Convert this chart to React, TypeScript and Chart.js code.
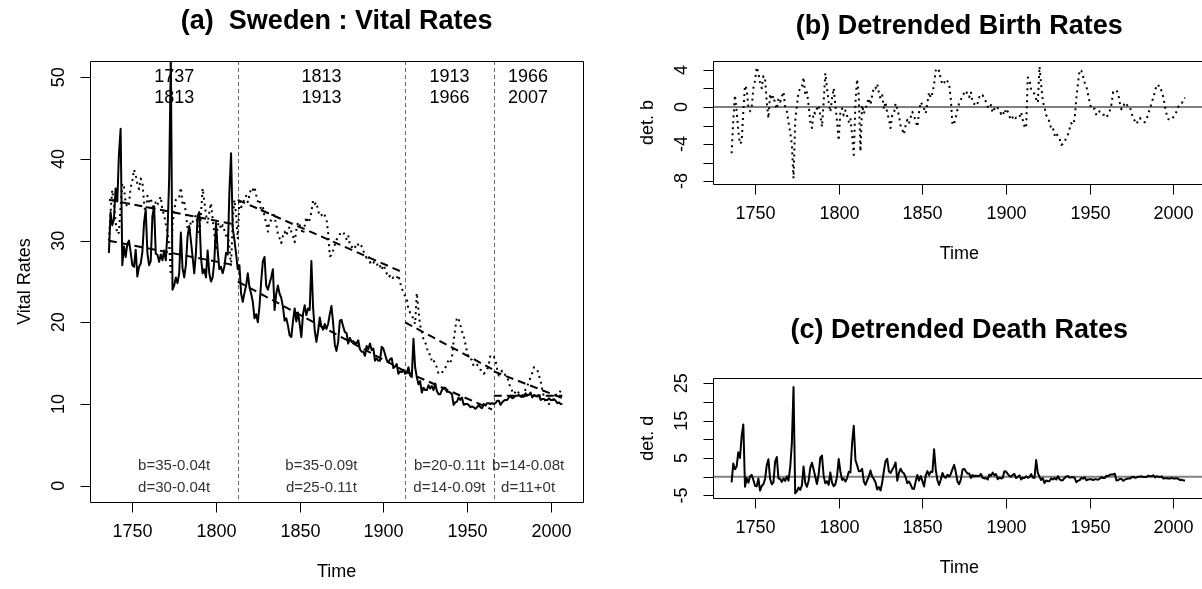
import React, { useEffect, useRef } from "react";
import { Chart, registerables } from "chart.js";

Chart.register(...registerables);

const FONT = '"Liberation Sans", Arial, Helvetica, sans-serif';

// ---------------- data ----------------
const startYear = 1736;

const birthRates = [
  30.0, 33.5, 36.2, 34.4, 32.3, 30.8, 31.0, 34.2, 37.0, 36.6,
  34.6, 34.1, 34.5, 36.5, 37.3, 38.7, 38.0, 37.0, 36.3, 37.6,
  37.2, 34.7, 32.9, 35.5, 34.8, 35.2, 34.3, 33.7, 34.8, 34.4,
  34.9, 35.4, 33.7, 33.2, 32.0, 30.9, 29.5, 25.8, 31.9, 33.6,
  35.0, 35.4, 35.4, 36.5, 34.5, 34.8, 33.4, 31.5, 30.8, 32.5,
  32.3, 32.8, 33.1, 32.0, 30.7, 33.3, 36.4, 34.8, 33.2, 32.1,
  33.5, 34.6, 32.7, 30.9, 28.8, 31.9, 32.2, 31.4, 31.9, 31.3,
  30.6, 31.0, 29.1, 26.9, 32.5, 35.0, 33.2, 30.2, 35.1, 34.1,
  34.5, 35.1, 35.5, 34.7, 35.6, 36.4, 36.2, 36.6, 35.6, 34.8,
  35.1, 33.5, 34.2, 32.9, 32.2, 31.1, 32.4, 32.5, 33.5, 32.8,
  32.0, 30.8, 30.3, 29.7, 30.6, 31.1, 30.6, 31.2, 31.7, 31.1,
  30.6, 29.8, 31.3, 32.3, 31.9, 31.4, 30.8, 31.8, 32.9, 32.2,
  32.6, 33.5, 34.9, 34.5, 34.7, 33.7, 33.0, 33.1, 33.4, 33.1,
  32.7, 31.0, 28.1, 28.2, 28.8, 29.5, 30.1, 30.4, 30.8, 30.9,
  31.1, 30.6, 30.2, 30.7, 29.5, 29.2, 29.4, 29.1, 29.7, 29.5,
  29.7, 29.3, 28.8, 28.2, 27.9, 28.2, 27.3, 27.6, 27.3, 27.5,
  27.3, 26.7, 26.9, 26.4, 27.0, 26.6, 26.0, 25.5, 25.7, 25.3,
  25.5, 25.3, 25.4, 25.8, 24.9, 24.1, 23.8, 23.2, 22.9, 21.6,
  21.2, 21.0, 20.3, 19.8, 23.6, 21.5, 19.6, 18.9, 17.9, 17.6,
  16.9, 16.1, 16.1, 15.2, 15.4, 14.8, 14.5, 13.7, 13.7, 13.8,
  14.2, 14.4, 14.9, 15.4, 15.1, 15.6, 17.7, 19.3, 20.6, 20.4,
  19.7, 18.9, 18.4, 17.4, 16.4, 15.6, 15.5, 15.4, 14.6, 14.8,
  14.8, 14.6, 14.2, 14.1, 13.7, 13.9, 14.2, 14.8, 16.0, 15.9,
  15.8, 15.4, 14.3, 13.5, 13.7, 14.1, 13.8, 13.5, 13.4, 12.6,
  12.0, 11.6, 11.2, 11.5, 11.7, 11.3, 11.1, 11.0, 11.2, 11.8,
  12.2, 12.7, 13.3, 13.8, 14.5, 14.3, 14.2, 13.5, 12.8, 11.7,
  10.8, 10.2, 10.1, 10.0, 10.2, 10.3, 10.7, 11.1, 11.2, 11.2,
  11.7, 11.7,
];

const deathRates = [
  28.5, 33.5, 31.9, 32.6, 36.4, 34.8, 40.6, 43.7, 27.0, 29.3,
  28.0, 29.6, 30.0, 28.6, 27.0, 26.8, 28.9, 25.6, 26.8, 27.2,
  28.6, 32.2, 33.8, 28.5, 27.0, 27.5, 33.0, 34.2, 28.4, 28.3,
  27.4, 28.3, 27.6, 28.8, 27.6, 31.0, 37.5, 52.5, 24.0, 24.5,
  25.5, 24.8, 26.0, 31.0, 26.6, 25.5, 27.0, 30.5, 31.8, 30.0,
  28.0, 26.0, 28.5, 33.0, 33.5, 28.0, 26.0, 26.5, 25.5, 28.8,
  26.0, 25.0, 25.5, 27.5, 32.2, 28.8, 26.5, 26.8, 26.0, 26.8,
  28.5, 28.3, 36.0, 40.7, 31.5, 30.1, 28.4, 26.5, 27.0, 23.5,
  22.5, 23.6, 24.5, 26.0, 24.3, 23.5, 22.5, 20.5, 21.0, 20.0,
  22.0, 25.0, 27.5, 28.0, 24.5, 24.0, 24.8, 25.5, 26.5, 21.5,
  23.5, 24.5, 23.5, 23.0, 21.9, 20.2, 20.5, 19.6, 18.4, 18.2,
  20.1, 21.7, 20.1, 21.2, 19.8, 18.2, 21.0, 22.1, 20.9, 21.7,
  21.5, 27.5, 21.9, 19.0, 17.6, 18.9, 20.6, 19.5, 19.1, 19.8,
  19.2, 19.8, 21.0, 22.0, 19.9, 17.3, 16.5, 17.6, 20.2, 20.3,
  19.5, 18.8, 18.7, 17.4, 18.1, 17.6, 17.7, 17.5, 17.4, 17.8,
  16.7, 16.4, 16.4, 15.9, 17.1, 16.7, 17.4, 16.6, 16.8, 15.3,
  15.6, 15.3, 15.3, 17.0, 16.8, 16.1, 15.4, 15.1, 15.5, 15.6,
  14.4, 14.6, 14.9, 13.7, 14.0, 13.9, 14.2, 13.7, 13.8, 14.5,
  13.5, 13.3, 18.0, 14.5, 13.3, 12.4, 12.8, 11.4, 12.0, 11.7,
  11.7, 12.3, 11.9, 12.2, 11.7, 12.5, 11.6, 11.2, 11.2, 11.7,
  12.0, 12.0, 11.5, 11.5, 11.4, 11.2, 9.9, 10.2, 10.3, 10.8,
  10.5, 10.8, 9.9, 10.0, 10.0, 9.9, 9.6, 9.7, 9.6, 9.4,
  9.6, 9.9, 9.6, 9.5, 10.0, 9.8, 10.1, 10.1, 10.0, 10.1,
  10.0, 10.1, 10.4, 10.4, 9.9, 10.2, 10.4, 10.5, 10.5, 10.8,
  11.0, 10.7, 10.8, 11.0, 11.0, 11.1, 10.9, 10.9, 10.9, 11.3,
  11.1, 11.1, 11.4, 10.8, 11.1, 11.0, 10.9, 11.1, 10.5, 10.6,
  10.6, 10.5, 10.5, 10.7, 10.5, 10.5, 10.6, 10.4, 10.1, 10.2,
  10.0, 10.0,
];

const years = birthRates.map((_, i) => startYear + i);

// piecewise linear trends, as printed on the chart (t = years since period start)
const segStarts = [1736, 1813, 1913, 1966];
const segEnds = [1812, 1912, 1965, 2007];
const birthIntercepts = [35, 35, 20, 14];
const birthSlopes = [-0.04, -0.09, -0.11, -0.08];
const deathIntercepts = [30, 25, 14, 11];
const deathSlopes = [-0.04, -0.11, -0.09, 0];
const breakYears = [1813, 1913, 1966];

const periodFrom = ["1737", "1813", "1913", "1966"];
const periodTo = ["1813", "1913", "1966", "2007"];
const periodMid = [1775, 1863, 1939.5, 1986.5];
const birthFormulas = ["b=35-0.04t", "b=35-0.09t", "b=20-0.11t", "b=14-0.08t"];
const deathFormulas = ["d=30-0.04t", "d=25-0.11t", "d=14-0.09t", "d=11+0t"];

const xTicks = [1750, 1800, 1850, 1900, 1950, 2000];
const rateTicks = [0, 10, 20, 30, 40, 50];
const detBTicks = [-8, -6, -4, -2, 0, 2, 4];
const detBTickLabels = [-8, -4, 0, 4];
const detDTicks = [-5, 0, 5, 10, 15, 20, 25];
const detDTickLabels = [-5, 5, 15, 25];

// ---------------- helpers ----------------
function segIndex(year: number) {
  let k = 0;
  for (let i = 0; i < segStarts.length; i++) if (year >= segStarts[i]) k = i;
  return k;
}
function trendAt(year: number, icpt: number[], slope: number[]) {
  const k = segIndex(year);
  return icpt[k] + slope[k] * (year - segStarts[k]);
}

const X_MIN = 1724.7;
const X_MAX = 2019.5;

function lineDs(data: { x: number; y: number }[], dash: number[], width = 2) {
  return {
    data,
    borderColor: "#000",
    borderWidth: width,
    borderDash: dash,
    borderCapStyle: "butt",
    borderJoinStyle: "round",
    pointRadius: 0,
    tension: 0,
    fill: false,
  } as any;
}

type Spec = {
  title: string;
  titleOffset: number;
  xTitle: string;
  yTitle: string;
  yTicks: number[];
  yTickLabels: number[];
  zeroLine?: boolean;
  breaks?: boolean;
  annotate?: boolean;
};

function rPlugin(spec: Spec) {
  return {
    id: "rStyle",
    beforeDatasetsDraw(chart: any) {
      const { ctx, chartArea: a, scales } = chart;
      ctx.save();
      if (spec.zeroLine) {
        const y = scales.y.getPixelForValue(0);
        ctx.strokeStyle = "#808080";
        ctx.lineWidth = 2;
        ctx.beginPath();
        ctx.moveTo(a.left, y);
        ctx.lineTo(a.right, y);
        ctx.stroke();
      }
      if (spec.breaks) {
        ctx.strokeStyle = "#666";
        ctx.lineWidth = 1;
        ctx.setLineDash([4, 3]);
        for (const b of breakYears) {
          const x = Math.round(scales.x.getPixelForValue(b)) + 0.5;
          ctx.beginPath();
          ctx.moveTo(x, a.top);
          ctx.lineTo(x, a.bottom);
          ctx.stroke();
        }
      }
      ctx.restore();
    },
    afterDraw(chart: any) {
      const { ctx, chartArea: a, scales } = chart;
      const xs = scales.x;
      const ys = scales.y;
      ctx.save();
      ctx.strokeStyle = "#000";
      ctx.fillStyle = "#000";
      ctx.lineWidth = 1;
      ctx.setLineDash([]);
      // box
      const l = Math.round(a.left) + 0.5;
      const t = Math.round(a.top) + 0.5;
      const r = Math.round(a.right) + 0.5;
      const b = Math.round(a.bottom) + 0.5;
      ctx.beginPath();
      ctx.moveTo(l, t);
      ctx.lineTo(r, t);
      ctx.lineTo(r, b);
      ctx.lineTo(l, b);
      ctx.closePath();
      ctx.stroke();
      // x ticks
      ctx.font = `18px ${FONT}`;
      ctx.textAlign = "center";
      ctx.textBaseline = "middle";
      for (const v of xTicks) {
        const px = Math.round(xs.getPixelForValue(v)) + 0.5;
        ctx.beginPath();
        ctx.moveTo(px, b);
        ctx.lineTo(px, b + 10);
        ctx.stroke();
        ctx.fillText(String(v), px, a.bottom + 30);
      }
      // y ticks
      for (const v of spec.yTicks) {
        const py = Math.round(ys.getPixelForValue(v)) + 0.5;
        ctx.beginPath();
        ctx.moveTo(l - 10, py);
        ctx.lineTo(l, py);
        ctx.stroke();
      }
      for (const v of spec.yTickLabels) {
        const py = ys.getPixelForValue(v);
        ctx.save();
        ctx.translate(a.left - 31, py);
        ctx.rotate(-Math.PI / 2);
        ctx.fillText(String(v), 0, 0);
        ctx.restore();
      }
      // axis titles
      const cx = (a.left + a.right) / 2;
      const cy = (a.top + a.bottom) / 2;
      ctx.fillText(spec.xTitle, cx, a.bottom + 70);
      ctx.save();
      ctx.translate(a.left - 65, cy);
      ctx.rotate(-Math.PI / 2);
      ctx.fillText(spec.yTitle, 0, 0);
      ctx.restore();
      // main title
      ctx.font = `bold 27px ${FONT}`;
      ctx.fillText(spec.title, cx, a.top - spec.titleOffset);
      // annotations
      if (spec.annotate) {
        ctx.font = `18px ${FONT}`;
        for (let i = 0; i < periodFrom.length; i++) {
          const px = xs.getPixelForValue(periodMid[i]);
          ctx.fillText(periodFrom[i], px, ys.getPixelForValue(50));
          ctx.fillText(periodTo[i], px, ys.getPixelForValue(47.5));
        }
        ctx.font = `15px ${FONT}`;
        ctx.fillStyle = "#333";
        for (let i = 0; i < birthFormulas.length; i++) {
          const px = xs.getPixelForValue(periodMid[i]);
          ctx.fillText(birthFormulas[i], px, ys.getPixelForValue(2.4));
          ctx.fillText(deathFormulas[i], px, ys.getPixelForValue(-0.3));
        }
      }
      ctx.restore();
    },
  };
}

function baseOptions(yMin: number, yMax: number, padding: any) {
  return {
    responsive: false,
    maintainAspectRatio: false,
    animation: false,
    devicePixelRatio: 1,
    events: [],
    layout: { padding },
    plugins: { legend: { display: false }, tooltip: { enabled: false }, title: { display: false } },
    scales: {
      x: { type: "linear", min: X_MIN, max: X_MAX, display: false },
      y: { type: "linear", min: yMin, max: yMax, display: false },
    },
  } as any;
}

function vitalConfig() {
  const datasets: any[] = [];
  datasets.push(lineDs(years.map((x, i) => ({ x, y: birthRates[i] })), [2, 4]));
  datasets.push(lineDs(years.map((x, i) => ({ x, y: deathRates[i] })), []));
  for (let k = 0; k < segStarts.length; k++) {
    const s = segStarts[k];
    const e = segEnds[k];
    datasets.push(
      lineDs(
        [
          { x: s, y: birthIntercepts[k] },
          { x: e, y: birthIntercepts[k] + birthSlopes[k] * (e - s) },
        ],
        [8, 5]
      )
    );
    datasets.push(
      lineDs(
        [
          { x: s, y: deathIntercepts[k] },
          { x: e, y: deathIntercepts[k] + deathSlopes[k] * (e - s) },
        ],
        [8, 5]
      )
    );
  }
  return {
    type: "line",
    data: { datasets },
    options: baseOptions(-2, 52, { left: 90, top: 61, right: 36.7, bottom: 87 }),
    plugins: [
      rPlugin({
        title: "(a)  Sweden : Vital Rates",
        titleOffset: 39,
        xTitle: "Time",
        yTitle: "Vital Rates",
        yTicks: rateTicks,
        yTickLabels: rateTicks,
        breaks: true,
        annotate: true,
      }),
    ],
  } as any;
}

function detBirthConfig() {
  const data = years.map((x, i) => ({ x, y: birthRates[i] - trendAt(x, birthIntercepts, birthSlopes) }));
  return {
    type: "line",
    data: { datasets: [lineDs(data, [2, 4])] },
    options: baseOptions(-8.32, 4.97, { left: 92.7, top: 61, right: 14, bottom: 116 }),
    plugins: [
      rPlugin({
        title: "(b) Detrended Birth Rates",
        titleOffset: 34,
        xTitle: "Time",
        yTitle: "det. b",
        yTicks: detBTicks,
        yTickLabels: detBTickLabels,
        zeroLine: true,
      }),
    ],
  } as any;
}

function detDeathConfig() {
  const data = years.map((x, i) => ({ x, y: deathRates[i] - trendAt(x, deathIntercepts, deathSlopes) }));
  return {
    type: "line",
    data: { datasets: [lineDs(data, [])] },
    options: baseOptions(-5.7, 26.34, { left: 92.7, top: 78.3, right: 14, bottom: 91 }),
    plugins: [
      rPlugin({
        title: "(c) Detrended Death Rates",
        titleOffset: 48,
        xTitle: "Time",
        yTitle: "det. d",
        yTicks: detDTicks,
        yTickLabels: detDTickLabels,
        zeroLine: true,
      }),
    ],
  } as any;
}

function Panel(props: { left: number; top: number; width: number; height: number; make: () => any }) {
  const ref = useRef<HTMLCanvasElement | null>(null);
  useEffect(() => {
    if (!ref.current) return;
    const chart = new Chart(ref.current, props.make());
    return () => chart.destroy();
  }, []);
  return (
    <canvas
      ref={ref}
      width={props.width}
      height={props.height}
      style={{ position: "absolute", left: props.left, top: props.top, width: props.width, height: props.height }}
    />
  );
}

export default function App() {
  return (
    <div
      style={{
        position: "fixed",
        left: 0,
        top: 0,
        width: 1202,
        height: 589,
        overflow: "hidden",
        background: "#fff",
      }}
    >
      <Panel left={0} top={0} width={620} height={589} make={vitalConfig} />
      <Panel left={620} top={0} width={600} height={300} make={detBirthConfig} />
      <Panel left={620} top={300} width={600} height={289} make={detDeathConfig} />
    </div>
  );
}
